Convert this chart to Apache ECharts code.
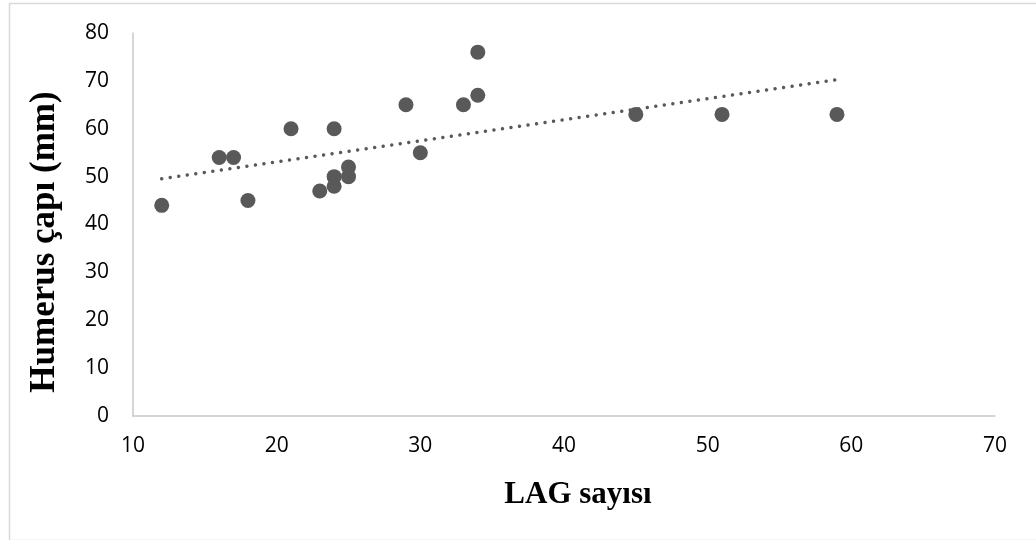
<!DOCTYPE html>
<html>
<head>
<meta charset="utf-8">
<script src="https://cdn.jsdelivr.net/npm/echarts@6/dist/echarts.min.js"></script>
<style>
html,body{margin:0;padding:0;background:#fff;}
#c{width:1036px;height:540px;}
</style>
</head>
<body>
<div id="c"></div>
<script>
var lagValues = [12, 16, 17, 18, 21, 23, 24, 24, 24, 25, 25, 29, 30, 33, 34, 34, 45, 51, 59];
var humerusValues = [44, 54, 54, 45, 60, 47, 60, 50, 48, 52, 50, 65, 55, 65, 76, 67, 63, 63, 63];
var xTitle = 'LAG sayısı';
var yTitle = 'Humerus çapı (mm)';

var points = lagValues.map(function (x, i) { return [x, humerusValues[i]]; });

// least-squares trend line
var n = lagValues.length, sx = 0, sy = 0, sxx = 0, sxy = 0;
for (var i = 0; i < n; i++) {
  sx += lagValues[i]; sy += humerusValues[i];
  sxx += lagValues[i] * lagValues[i]; sxy += lagValues[i] * humerusValues[i];
}
var slope = (n * sxy - sx * sy) / (n * sxx - sx * sx);
var intercept = (sy - slope * sx) / n;
var xMin = Math.min.apply(null, lagValues), xMax = Math.max.apply(null, lagValues);
var trend = [[xMin, intercept + slope * xMin], [xMax, intercept + slope * xMax]];

var chart = echarts.init(document.getElementById('c'), null, {renderer: 'canvas'});
chart.setOption({
  animation: false,
  backgroundColor: '#fff',
  graphic: [{
    type: 'rect', left: 7, top: 1, z: -1, silent: true,
    shape: {width: 1040, height: 537},
    style: {fill: 'none', stroke: '#d9d9d9', lineWidth: 1.5}
  }, {
    type: 'text', x: 578, y: 495,
    style: {text: xTitle, textAlign: 'center', textVerticalAlign: 'middle',
      font: 'bold 31px "Liberation Serif"', fill: '#000'}
  }, {
    type: 'text', x: 45, y: 242, rotation: Math.PI / 2,
    style: {text: yTitle, textAlign: 'center', textVerticalAlign: 'middle',
      font: 'bold 35px "Liberation Serif"', fill: '#000'}
  }],
  grid: {left: 133, right: 41, top: 33, bottom: 124},
  xAxis: {
    type: 'value', min: 10, max: 70, interval: 10,
    axisLine: {show: true, lineStyle: {color: '#c8c8c8', width: 1.5}},
    axisTick: {show: false},
    splitLine: {show: false},
    axisLabel: {fontFamily: 'Open Sans', fontSize: 21, color: '#000', margin: 20}
  },
  yAxis: {
    type: 'value', min: 0, max: 80, interval: 10,
    axisLine: {show: true, lineStyle: {color: '#c8c8c8', width: 1.5}},
    axisTick: {show: false},
    splitLine: {show: false},
    axisLabel: {fontFamily: 'Open Sans', fontSize: 21, color: '#000', margin: 24}
  },
  series: [{
    type: 'line', data: trend, showSymbol: false, symbol: 'none',
    lineStyle: {color: '#595959', width: 3.5, type: [0.01, 8.6], cap: 'round'},
    z: 1
  }, {
    type: 'scatter', data: points, symbolSize: 15,
    itemStyle: {color: '#595959', opacity: 1},
    z: 2
  }]
});
</script>
</body>
</html>
